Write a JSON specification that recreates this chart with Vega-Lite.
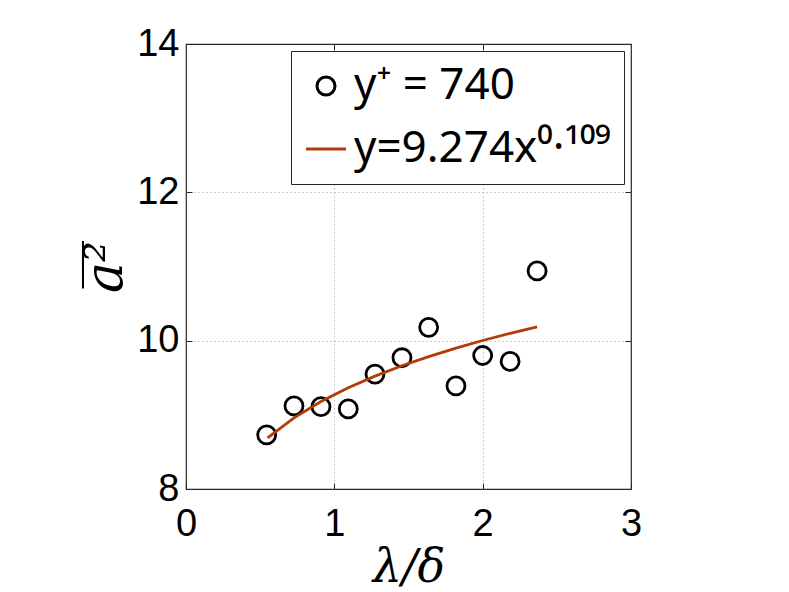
{
  "$schema": "https://vega.github.io/schema/vega-lite/v6.json",
  "width": 445,
  "height": 445,
  "autosize": {"type": "none"},
  "padding": {"left": 186, "top": 44, "right": 158, "bottom": 103},
  "background": "white",
  "datasets": {
    "pts": [
      {"x": 0.544, "y": 8.73, "s": "y⁺ = 740"},
      {"x": 0.728, "y": 9.12, "s": "y⁺ = 740"},
      {"x": 0.910, "y": 9.11, "s": "y⁺ = 740"},
      {"x": 1.094, "y": 9.08, "s": "y⁺ = 740"},
      {"x": 1.274, "y": 9.55, "s": "y⁺ = 740"},
      {"x": 1.456, "y": 9.77, "s": "y⁺ = 740"},
      {"x": 1.636, "y": 10.18, "s": "y⁺ = 740"},
      {"x": 1.820, "y": 9.39, "s": "y⁺ = 740"},
      {"x": 2.000, "y": 9.80, "s": "y⁺ = 740"},
      {"x": 2.185, "y": 9.72, "s": "y⁺ = 740"},
      {"x": 2.367, "y": 10.94, "s": "y⁺ = 740"}
    ],
    "fit": [
      {"x": 0.550, "y": 8.688, "s": "y=9.274x⁰·¹⁰⁹"},
      {"x": 0.728, "y": 8.959, "s": "y=9.274x⁰·¹⁰⁹"},
      {"x": 0.910, "y": 9.179, "s": "y=9.274x⁰·¹⁰⁹"},
      {"x": 1.094, "y": 9.365, "s": "y=9.274x⁰·¹⁰⁹"},
      {"x": 1.274, "y": 9.522, "s": "y=9.274x⁰·¹⁰⁹"},
      {"x": 1.456, "y": 9.662, "s": "y=9.274x⁰·¹⁰⁹"},
      {"x": 1.636, "y": 9.785, "s": "y=9.274x⁰·¹⁰⁹"},
      {"x": 1.820, "y": 9.900, "s": "y=9.274x⁰·¹⁰⁹"},
      {"x": 2.000, "y": 10.002, "s": "y=9.274x⁰·¹⁰⁹"},
      {"x": 2.185, "y": 10.099, "s": "y=9.274x⁰·¹⁰⁹"},
      {"x": 2.367, "y": 10.187, "s": "y=9.274x⁰·¹⁰⁹"}
    ]
  },
  "config": {
    "view": {"stroke": "#262626", "strokeWidth": 1.2},
    "axis": {
      "labelFont": "Liberation Sans",
      "labelFontSize": 38,
      "labelColor": "black",
      "domain": false,
      "tickColor": "#262626",
      "tickSize": -6,
      "tickWidth": 1,
      "gridColor": "#9a9a9a",
      "gridDash": [1, 3],
      "gridWidth": 1,
      "labelFlush": false,
      "labelOverlap": false,
      "labelBound": false,
      "titleFont": "DejaVu Serif",
      "titleFontStyle": "italic",
      "titleFontWeight": "normal",
      "titleColor": "black",
      "titleFontSize": 46
    },
    "legend": {
      "orient": "top-right",
      "offset": 7,
      "strokeColor": "#262626",
      "fillColor": "white",
      "padding": 13,
      "labelFont": "Noto Sans",
      "labelFontSize": 44,
      "labelColor": "black",
      "labelLimit": 0,
      "labelOffset": 6,
      "rowPadding": 19,
      "symbolStrokeWidth": 3,
      "symbolOpacity": 1
    }
  },
  "layer": [
    {
      "data": {"name": "pts"},
      "mark": {"type": "point", "filled": false, "strokeWidth": 2.8, "opacity": 1},
      "encoding": {
        "x": {
          "field": "x", "type": "quantitative",
          "scale": {"domain": [0, 3], "nice": false, "zero": false},
          "axis": {
            "title": "λ/δ",
            "values": [0, 1, 2, 3],
            "labelPadding": 22,
            "titlePadding": 2,
            "grid": true,
            "gridOpacity": {"condition": {"test": "datum.value === 0 || datum.value === 3", "value": 0}, "value": 1}
          }
        },
        "y": {
          "field": "y", "type": "quantitative",
          "scale": {"domain": [8, 14], "nice": false, "zero": false},
          "axis": {
            "title": "a̅²̅",
            "values": [8, 10, 12, 14],
            "labelPadding": 13,
            "titlePadding": 4,
            "titleFontSize": 52,
            "grid": true,
            "gridOpacity": {"condition": {"test": "datum.value === 8 || datum.value === 14", "value": 0}, "value": 1}
          }
        },
        "color": {
          "field": "s", "type": "nominal",
          "scale": {"domain": ["y⁺ = 740", "y=9.274x⁰·¹⁰⁹"], "range": ["black", "#b23c08"]},
          "legend": {"title": null}
        },
        "shape": {
          "field": "s", "type": "nominal",
          "scale": {"domain": ["y⁺ = 740", "y=9.274x⁰·¹⁰⁹"], "range": ["circle", "stroke"]},
          "legend": {"title": null}
        },
        "size": {
          "field": "s", "type": "nominal",
          "scale": {"domain": ["y⁺ = 740", "y=9.274x⁰·¹⁰⁹"], "range": [324, 1600]},
          "legend": {"title": null}
        }
      }
    },
    {
      "data": {"name": "fit"},
      "mark": {"type": "line", "strokeWidth": 2.8},
      "encoding": {
        "x": {
          "field": "x", "type": "quantitative",
          "axis": {"orient": "top", "title": null, "labels": false, "grid": false, "values": [1, 2]}
        },
        "y": {
          "field": "y", "type": "quantitative",
          "axis": {"orient": "right", "title": null, "labels": false, "grid": false, "values": [10, 12]}
        },
        "color": {"field": "s", "type": "nominal", "legend": {"title": null}}
      }
    }
  ],
  "resolve": {"axis": {"x": "independent", "y": "independent"}}
}
